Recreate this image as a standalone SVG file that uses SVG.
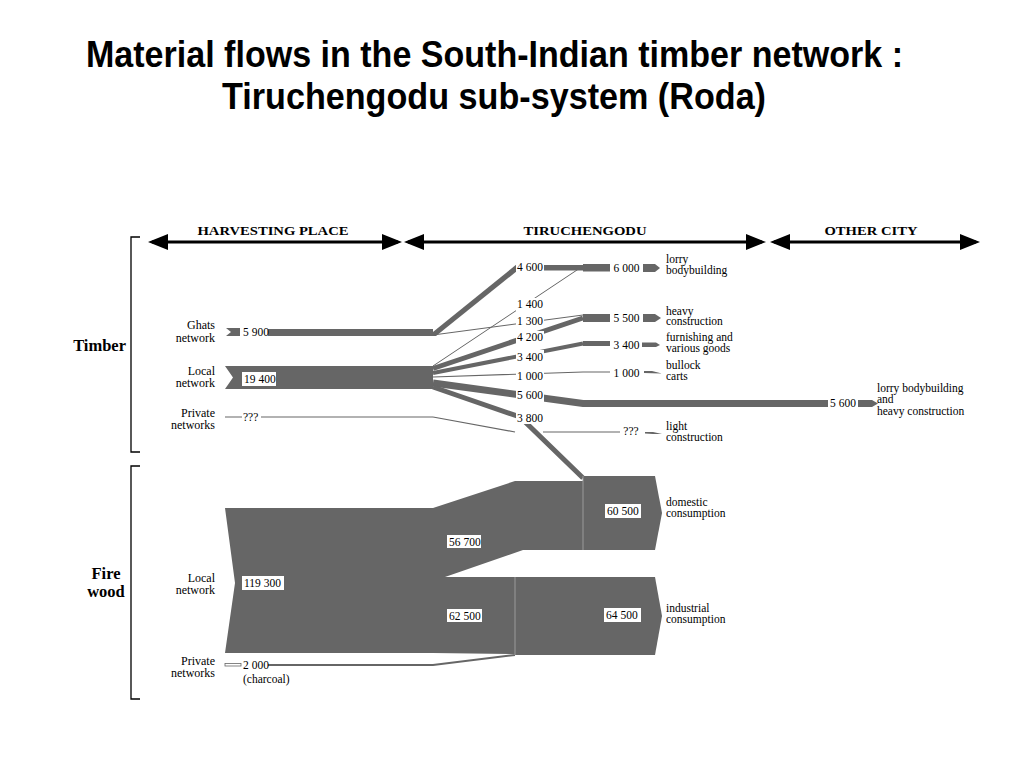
<svg xmlns="http://www.w3.org/2000/svg" width="1024" height="768" viewBox="0 0 1024 768">
<style>
.title{font-family:"Liberation Sans Narrow","Liberation Sans",Arial,sans-serif;font-weight:bold;font-size:37px;fill:#000}
.t{font-family:"Liberation Serif","Times New Roman",serif;font-size:11.5px;fill:#000}
.tl{font-family:"Liberation Serif","Times New Roman",serif;font-size:12px;fill:#000;text-anchor:end}
.hd{font-family:"Liberation Serif","Times New Roman",serif;font-size:13px;font-weight:bold;fill:#000;text-anchor:middle}
.big{font-family:"Liberation Serif","Times New Roman",serif;font-size:16.5px;font-weight:bold;fill:#000}
.f{fill:#666}
.s{stroke:#666;fill:none}
.box{fill:#fff}
.ha{stroke:#000;stroke-width:3;fill:none;marker-start:url(#ah);marker-end:url(#ah)}
.br{stroke:#000;stroke-width:1.3;fill:none}
.sep{stroke:#9a9a9a;stroke-width:1}
</style>
<defs>
<marker id="ah" markerUnits="userSpaceOnUse" viewBox="0 0 20 16" refX="16" refY="8" markerWidth="20" markerHeight="16" orient="auto-start-reverse">
<path d="M0,0 L20,8 L0,16 z" fill="#000"/>
</marker>
</defs>

<g id="title">
<text class="title" x="86" y="67" textLength="817" lengthAdjust="spacingAndGlyphs">Material flows in the South-Indian timber network :</text>
<text class="title" x="222" y="109" textLength="544" lengthAdjust="spacingAndGlyphs">Tiruchengodu sub-system (Roda)</text>
</g>

<g id="header">
<line class="ha" x1="152" y1="242" x2="398" y2="242"/>
<line class="ha" x1="408" y1="242" x2="762" y2="242"/>
<line class="ha" x1="774" y1="242" x2="976" y2="242"/>
<text class="hd" x="273" y="235" textLength="151" lengthAdjust="spacingAndGlyphs">HARVESTING PLACE</text>
<text class="hd" x="585" y="235" textLength="123" lengthAdjust="spacingAndGlyphs">TIRUCHENGODU</text>
<text class="hd" x="871" y="235" textLength="93" lengthAdjust="spacingAndGlyphs">OTHER CITY</text>
</g>

<g id="timber-bracket">
<polyline class="br" points="140,237 131,237 131,452 140,452"/>
<text class="big" x="126" y="351" text-anchor="end">Timber</text>
</g>
<g id="firewood-bracket">
<polyline class="br" points="140,466 131,466 131,699 140,699"/>
<text class="big" x="106" y="579" text-anchor="middle">Fire</text>
<text class="big" x="106" y="597" text-anchor="middle">wood</text>
</g>

<g id="connectors">
<polygon class="f" points="428,336 436,336 517,271 517,264"/>
<line class="s" x1="433" y1="366" x2="583" y2="266" stroke-width="1"/>
<line class="s" x1="433" y1="335" x2="583" y2="315" stroke-width="1"/>
<line class="s" x1="433" y1="368.5" x2="583" y2="318" stroke-width="5"/>
<line class="s" x1="433" y1="373" x2="583" y2="343.5" stroke-width="4"/>
<polyline class="s" points="433,377 583,372 610,372" stroke-width="1.2"/>
<polyline class="s" points="433,383 583,403.5 828,403.5" stroke-width="7"/>
<polyline class="s" points="433,387 520,417 583,478" stroke-width="5"/>
<polyline class="s" points="433,417 515,432" stroke-width="1.2"/>
<line class="s" x1="543" y1="432" x2="620" y2="432" stroke-width="1.2"/>
<rect class="f" x="543" y="265" width="40" height="5.5"/>
<rect class="f" x="583" y="264" width="27" height="7.5"/>
<rect class="f" x="583" y="314" width="27" height="8"/>
<rect class="f" x="583" y="341" width="27" height="5"/>
<polyline class="s" points="268,665 433,665 515,655" stroke-width="2"/>
</g>

<g id="ghats-network">
<text class="tl" x="215" y="329">Ghats</text>
<text class="tl" x="215" y="342">network</text>
<polygon class="f" points="226,328 240,328 240,336 226,336 231,332"/>
<rect class="f" x="268" y="329" width="165" height="7"/>
<text class="t" x="243" y="336">5 900</text>
</g>

<g id="local-timber">
<text class="tl" x="215" y="375">Local</text>
<text class="tl" x="215" y="387">network</text>
<polygon class="f" points="225,366 433,366 433,389 225,389 233,377.5"/>
<rect class="box" x="242" y="372" width="34" height="14"/>
<text class="t" x="244" y="383">19 400</text>
</g>

<g id="private-timber">
<text class="tl" x="215" y="417">Private</text>
<text class="tl" x="215" y="429">networks</text>
<line class="s" x1="225" y1="417" x2="433" y2="417" stroke-width="1.2"/>
<rect class="box" x="242" y="411" width="19" height="12"/>
<text class="t" x="243" y="421">???</text>
</g>

<g id="mid-labels">
<rect class="box" x="516" y="261" width="28" height="13"/>
<text class="t" x="530" y="271" text-anchor="middle">4 600</text>
<rect class="box" x="516" y="298" width="28" height="13"/>
<text class="t" x="530" y="308" text-anchor="middle">1 400</text>
<rect class="box" x="516" y="315" width="28" height="13"/>
<text class="t" x="530" y="325" text-anchor="middle">1 300</text>
<rect class="box" x="516" y="331" width="28" height="13"/>
<text class="t" x="530" y="341" text-anchor="middle">4 200</text>
<rect class="box" x="516" y="350" width="28" height="13"/>
<text class="t" x="530" y="361" text-anchor="middle">3 400</text>
<rect class="box" x="516" y="370" width="28" height="13"/>
<text class="t" x="530" y="380" text-anchor="middle">1 000</text>
<rect class="box" x="516" y="389" width="28" height="13"/>
<text class="t" x="530" y="399" text-anchor="middle">5 600</text>
<rect class="box" x="516" y="411" width="28" height="13"/>
<text class="t" x="530" y="422" text-anchor="middle">3 800</text>
</g>

<g id="lorry-bodybuilding">
<rect class="box" x="611" y="261" width="31" height="14"/>
<text class="t" x="626.5" y="272" text-anchor="middle">6 000</text>
<polygon class="f" points="643,264 655,264 660,268 655,272 643,272"/>
<text class="t" x="666" y="263">lorry</text>
<text class="t" x="666" y="274">bodybuilding</text>
</g>

<g id="heavy-construction">
<rect class="box" x="611" y="311" width="31" height="14"/>
<text class="t" x="626.5" y="322" text-anchor="middle">5 500</text>
<polygon class="f" points="643,314 655,314 661,318 655,322 643,322"/>
<text class="t" x="666" y="315">heavy</text>
<text class="t" x="666" y="325">construction</text>
</g>

<g id="furnishing">
<rect class="box" x="611" y="338" width="31" height="14"/>
<text class="t" x="626.5" y="349" text-anchor="middle">3 400</text>
<polygon class="f" points="642,342.5 656,342.5 660,345 656,347 642,347"/>
<text class="t" x="666" y="341">furnishing and</text>
<text class="t" x="666" y="352">various goods</text>
</g>

<g id="bullock-carts">
<rect class="box" x="611" y="366" width="31" height="14"/>
<text class="t" x="626.5" y="377" text-anchor="middle">1 000</text>
<polygon class="f" points="644,371 652,371 662,373.5 652,373.2 644,373"/>
<text class="t" x="666" y="369">bullock</text>
<text class="t" x="666" y="380">carts</text>
</g>

<g id="other-city">
<rect class="box" x="828" y="397" width="30" height="14"/>
<text class="t" x="843" y="407" text-anchor="middle">5 600</text>
<polygon class="f" points="858,400 872,400 878,403.5 872,407 858,407"/>
<text class="t" x="877" y="392">lorry bodybuilding</text>
<text class="t" x="877" y="403">and</text>
<text class="t" x="877" y="415">heavy construction</text>
</g>

<g id="light-construction">
<rect class="box" x="621" y="425" width="20" height="12"/>
<text class="t" x="631" y="435" text-anchor="middle">???</text>
<polygon class="f" points="645,432 653,432 662,434 653,434 645,433.5"/>
<text class="t" x="666" y="430">light</text>
<text class="t" x="666" y="441">construction</text>
</g>

<g id="local-firewood">
<text class="tl" x="215" y="582">Local</text>
<text class="tl" x="215" y="594">network</text>
<polygon class="f" points="225,508 433,508 515,481 583,481 583,550 523,550 445,577 515,577 515,654 433,653 225,653 235,583"/>
<rect class="box" x="242" y="576" width="42" height="14"/>
<text class="t" x="244" y="587">119 300</text>
<rect class="box" x="447" y="535" width="34" height="13"/>
<text class="t" x="449" y="546">56 700</text>
<rect class="box" x="447" y="609" width="35" height="13"/>
<text class="t" x="449" y="620">62 500</text>
</g>

<g id="domestic">
<polygon class="f" points="583,476 655,476 662,513 655,550 583,550"/>
<line class="sep" x1="583" y1="476" x2="583" y2="550"/>
<rect class="box" x="605" y="504" width="36" height="14"/>
<text class="t" x="607" y="515">60 500</text>
<text class="t" x="666" y="506">domestic</text>
<text class="t" x="666" y="517">consumption</text>
</g>

<g id="industrial">
<polygon class="f" points="515,577 655,577 662,616 655,655 515,655"/>
<line class="sep" x1="515" y1="577" x2="515" y2="655"/>
<rect class="box" x="604" y="608" width="37" height="14"/>
<text class="t" x="606" y="619">64 500</text>
<text class="t" x="666" y="612">industrial</text>
<text class="t" x="666" y="623">consumption</text>
</g>

<g id="private-firewood">
<text class="tl" x="215" y="665">Private</text>
<text class="tl" x="215" y="677">networks</text>
<rect x="225" y="663.5" width="16" height="2.5" fill="#fff" stroke="#666" stroke-width="0.8"/>
<text class="t" x="243" y="669">2 000</text>
<text class="t" x="243" y="683">(charcoal)</text>
</g>
</svg>
